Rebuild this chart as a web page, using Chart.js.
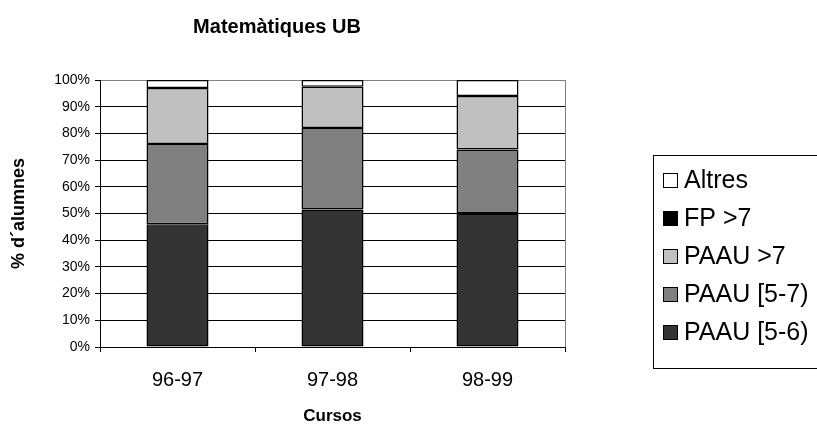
<!DOCTYPE html>
<html><head><meta charset="utf-8">
<script src="https://cdn.jsdelivr.net/npm/chart.js@4"></script>
<style>html,body{margin:0;padding:0;background:#fff;}</style>
</head><body>
<canvas id="c" width="817" height="425"></canvas>
<script>
const categories = ['96-97', '97-98', '98-99'];
const seriesNames = ['PAAU [5-6)', 'PAAU [5-7)', 'PAAU >7', 'FP >7', 'Altres'];
const paau56 = [46, 51.5, 50];
const paau57 = [30, 30.5, 24];
const paau7 = [21, 15.5, 20];
const fp7 = [0, 0, 0];
const altres = [3, 2.5, 6];
const yTickValues = [0, 10, 20, 30, 40, 50, 60, 70, 80, 90, 100];
const chartTitle = 'Matemàtiques UB';
const xTitle = 'Cursos';
const yTitle = '% d\u00B4alumnes';
const seriesColors = ['#333333', '#808080', '#c0c0c0', '#000000', '#ffffff'];

const FONT = 'Arial, "Liberation Sans", sans-serif';
Chart.defaults.font.family = FONT;
Chart.defaults.color = '#000';

const seriesValues = [paau56, paau57, paau7, fp7, altres];
const datasets = seriesNames.map((name, i) => ({
  label: name,
  data: seriesValues[i],
  backgroundColor: seriesColors[i],
  borderColor: '#000',
  borderWidth: 1.5,
  borderSkipped: false,
  barPercentage: 0.4,
  categoryPercentage: 1.0
}));

const titlePlugin = {
  id: 'customTitle',
  afterDraw(chart) {
    const ctx = chart.ctx;
    ctx.save();
    ctx.font = 'bold 20px ' + FONT;
    ctx.fillStyle = '#000';
    ctx.textAlign = 'center';
    ctx.textBaseline = 'middle';
    ctx.fillText(chartTitle, 277, 27);
    ctx.restore();
  }
};

const framePlugin = {
  id: 'frame',
  afterDraw(chart) {
    const ctx = chart.ctx, a = chart.chartArea;
    ctx.save();
    ctx.strokeStyle = '#808080';
    ctx.lineWidth = 1;
    ctx.beginPath();
    ctx.moveTo(Math.round(a.right) + 0.5, a.top);
    ctx.lineTo(Math.round(a.right) + 0.5, a.bottom);
    ctx.stroke();
    ctx.restore();
  }
};

const legendPlugin = {
  id: 'boxLegend',
  afterDraw(chart) {
    const ctx = chart.ctx;
    const lx = 653, ly = 155, lh = 213;
    ctx.save();
    ctx.strokeStyle = '#000';
    ctx.lineWidth = 1;
    ctx.strokeRect(lx + 0.5, ly + 0.5, 817 - lx + 10, lh);
    const ds = chart.data.datasets.slice().reverse();
    ctx.font = '25px ' + FONT;
    ctx.textBaseline = 'middle';
    ctx.textAlign = 'left';
    ds.forEach((d, i) => {
      const cy = 180 + i * 38;
      ctx.fillStyle = d.backgroundColor;
      ctx.fillRect(663, cy - 7, 15, 15);
      ctx.strokeStyle = '#000';
      ctx.strokeRect(663.5, cy - 6.5, 14, 14);
      ctx.fillStyle = '#000';
      ctx.fillText(d.label, 684, cy + 1);
    });
    ctx.restore();
  }
};

new Chart(document.getElementById('c'), {
  type: 'bar',
  data: {labels: categories, datasets: datasets},
  plugins: [titlePlugin, framePlugin, legendPlugin],
  options: {
    responsive: false,
    animation: false,
    devicePixelRatio: 1,
    layout: {padding: {top: 80, right: 252, left: 0, bottom: 0}},
    plugins: {legend: {display: false}, title: {display: false}, tooltip: {enabled: false}},
    scales: {
      x: {
        stacked: true,
        grid: {offset: true, drawOnChartArea: false, drawTicks: true, tickLength: 5, color: '#000'},
        border: {color: '#000', width: 1},
        ticks: {color: '#000', font: {size: 20}, padding: 16, maxRotation: 0},
        title: {display: true, text: xTitle, color: '#000', font: {size: 17, weight: 'bold'}, padding: {top: 0, bottom: -2}},
        afterFit(s) { s.height = 78; }
      },
      y: {
        stacked: true,
        min: 0, max: 100,
        afterBuildTicks(s) { s.ticks = yTickValues.map(v => ({value: v})); },
        ticks: {callback: v => v + '%', color: '#000', font: {size: 14}, padding: 5},
        grid: {color: c => (c.tick && c.tick.value === 100) ? '#808080' : '#000', tickColor: '#000', tickLength: 5},
        border: {color: '#000', width: 1},
        title: {display: true, text: yTitle, color: '#000', font: {size: 18, weight: 'bold'}, padding: {top: 8, bottom: 0}},
        afterFit(s) { s.width = 100; }
      }
    }
  }
});
</script>
</body></html>
